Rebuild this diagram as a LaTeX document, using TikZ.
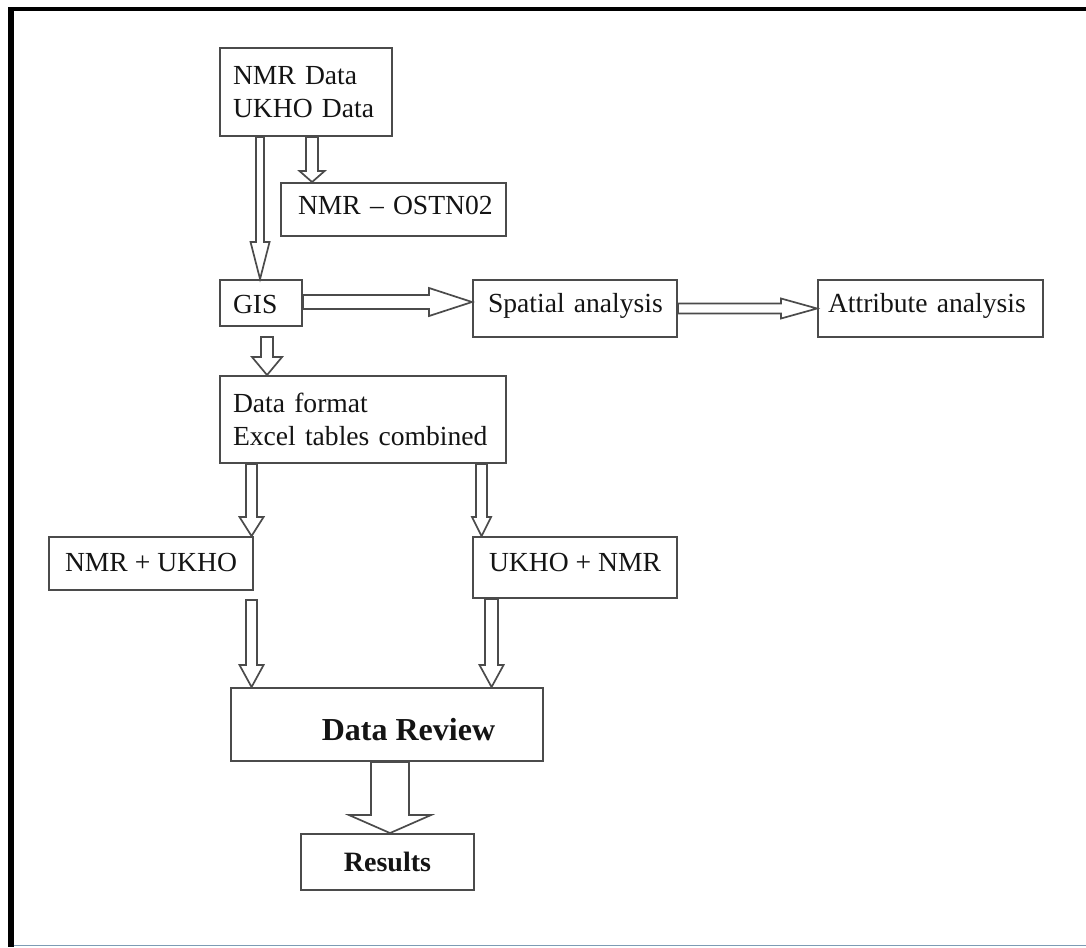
\documentclass[tikz,border=0pt]{standalone}
\usepackage{fontspec}
\setmainfont{Liberation Serif}
\usetikzlibrary{calc}
\definecolor{frameblue}{RGB}{125,155,180}
\definecolor{linegray}{RGB}{75,75,75}
\tikzset{
  box/.style={draw=linegray, line width=1.9pt, rectangle, inner sep=0pt, text=black!92,
    font=\fontsize{27.6}{33}\selectfont},
  arr/.style={draw=linegray, line width=1.7pt, fill=white, line join=miter},
}
% down block arrow: #1 start point, #2 target (only y used), #3 shaft half width, #4 head half width, #5 head length
\newcommand\darrow[5]{%
  \draw[arr] let \p1=#1, \p2=#2 in
    (\x1-#3,\y1) -- (\x1+#3,\y1) -- (\x1+#3,\y2+#5) -- (\x1+#4,\y2+#5) -- (\x1,\y2)
    -- (\x1-#4,\y2+#5) -- (\x1-#3,\y2+#5) -- cycle;}
% right block arrow: #1 start point, #2 target (only x used)
\newcommand\rarrow[5]{%
  \draw[arr] let \p1=#1, \p2=#2 in
    (\x1,\y1+#3) -- (\x2-#5,\y1+#3) -- (\x2-#5,\y1+#4) -- (\x2,\y1) -- (\x2-#5,\y1-#4)
    -- (\x2-#5,\y1-#3) -- (\x1,\y1-#3) -- cycle;}
\begin{document}
\begin{tikzpicture}[x=1pt,y=-1pt]
\useasboundingbox (0,0) rectangle (1086,947);
% frame
\fill[black] (8,7) rectangle (1086,11.5);
\fill[black] (8,7) rectangle (13.5,947);
\draw[frameblue, line width=1.5pt] (13.5,945.5) -- (1086,945.5);

% boxes
\node[box, minimum width=172pt, minimum height=88pt, text width=146pt, align=left] (data) at (306,92)
  {\mbox{NMR Data}\\\mbox{UKHO Data}};
\node[box, minimum width=225pt, minimum height=53pt, text width=191pt, align=left,
  text height=18pt, text depth=9pt] (ostn) at (393.5,209.5) {\mbox{NMR -- OSTN02}};
\node[box, minimum width=82pt, minimum height=46pt, text width=56pt, align=left,
  text height=20pt, text depth=0pt] (gis) at (261,303) {GIS};
\node[box, minimum width=204pt, minimum height=57pt, text width=174pt, align=left,
  text height=18pt, text depth=10pt] (spatial) at (575,308.5) {\mbox{Spatial analysis}};
\node[box, minimum width=225pt, minimum height=57pt, text width=205pt, align=left,
  text height=18pt, text depth=10pt] (attr) at (930.5,308.5) {\mbox{Attribute analysis}};
\node[box, minimum width=286pt, minimum height=87pt, text width=260pt, align=left] (df) at (363,419.5)
  {\mbox{Data format}\\\mbox{Excel tables combined}};
\node[box, minimum width=204pt, minimum height=53pt, align=center,
  text height=18pt, text depth=3pt] (nu) at (151,563.5) {NMR + UKHO};
\node[box, minimum width=204pt, minimum height=61pt, align=center,
  text height=18pt, text depth=10pt] (un) at (575,567.5) {UKHO + NMR};
\node[box, minimum width=312pt, minimum height=73pt, align=center,
  text height=31pt, text depth=0pt, font=\fontsize{32}{38}\selectfont\bfseries] (dr) at (387,724.5)
  {\hspace*{43pt}Data Review};
\node[box, minimum width=173pt, minimum height=56pt, align=center,
  text height=18pt, text depth=0pt, font=\fontsize{28}{34}\selectfont\bfseries] (res) at (387.5,862)
  {Results};

% connectors
\darrow{($(data.south west)+(41,0)$)}{(gis.north)}{4pt}{9.5pt}{37pt}
\darrow{($(data.south west)+(93,0)$)}{(ostn.north)}{6pt}{12.5pt}{11pt}
\darrow{($(gis.south west)+(48,10)$)}{(df.north)}{6pt}{15pt}{18pt}
\darrow{($(df.south west)+(32.5,0)$)}{(nu.north)}{5.5pt}{12pt}{19pt}
\darrow{($(df.south west)+(262.5,0)$)}{(un.north)}{5.5pt}{9.5pt}{19pt}
\darrow{($(nu.south west)+(203.5,9)$)}{(dr.north)}{5.5pt}{12pt}{22pt}
\darrow{($(un.south west)+(19.5,0)$)}{(dr.north)}{6.5pt}{12pt}{22pt}
\darrow{($(dr.south)+(3,0)$)}{(res.north)}{19pt}{41pt}{18pt}
\rarrow{($(gis.east)+(0,-1)$)}{(spatial.west)}{7pt}{14pt}{43pt}
\rarrow{(spatial.east)}{(attr.west)}{5pt}{10pt}{36pt}
\end{tikzpicture}
\end{document}
